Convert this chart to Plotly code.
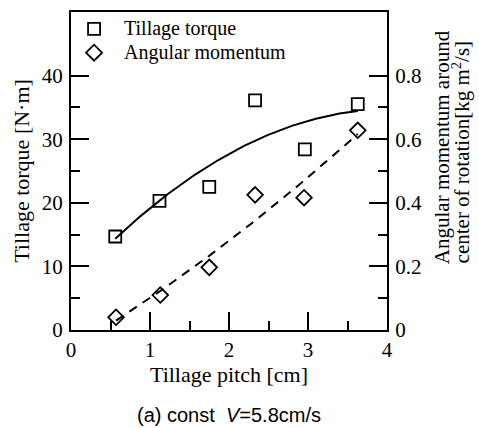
import numpy as np
import plotly.graph_objects as go

# Tillage pitch [cm] and measured values
pitch_torque = [0.56, 1.12, 1.75, 2.33, 2.96, 3.63]
torque = [14.7, 20.3, 22.5, 36.1, 28.4, 35.5]          # N·m

pitch_momentum = [0.57, 1.13, 1.75, 2.33, 2.95, 3.63]
momentum = [0.04, 0.11, 0.197, 0.425, 0.416, 0.628]    # kg m^2/s

left_ticks = [0, 10, 20, 30, 40]
left_minor = [5, 15, 25, 35]
right_ticks = [0, 0.2, 0.4, 0.6, 0.8]
right_tick_text = ["0", "0.2", "0.4", "0.6", "0.8"]
right_minor = [0.1, 0.3, 0.5, 0.7]
x_ticks = [0, 1, 2, 3, 4]
x_minor = [0.5, 1.5, 2.5, 3.5]

SERIF = "Liberation Serif"
SANS = "Liberation Sans"
INK = "black"


def quad_fit(x, y):
    """Second-order least-squares trend over the measured pitch range."""
    coef = np.polyfit(x, y, 2)
    xs = np.linspace(min(x), max(x), 120)
    return xs, np.polyval(coef, xs)


fx_t, fy_t = quad_fit(pitch_torque, torque)
fx_m, fy_m = quad_fit(pitch_momentum, momentum)

fig = go.Figure()

# torque trend and points (left axis)
fig.add_trace(go.Scatter(x=fx_t, y=fy_t, mode="lines",
                         line=dict(color=INK, width=2), hoverinfo="skip",
                         showlegend=False))
fig.add_trace(go.Scatter(x=pitch_torque, y=torque, mode="markers",
                         name="Tillage torque",
                         marker=dict(symbol="square-open", size=12,
                                     color=INK, line=dict(width=1.8)),
                         showlegend=False))

# angular momentum trend and points (right axis)
fig.add_trace(go.Scatter(x=fx_m, y=fy_m, mode="lines", yaxis="y2",
                         line=dict(color=INK, width=2, dash="9px,7px"),
                         hoverinfo="skip", showlegend=False))
fig.add_trace(go.Scatter(x=pitch_momentum, y=momentum, mode="markers",
                         yaxis="y2", name="Angular momentum",
                         marker=dict(symbol="diamond-open", size=12,
                                     color=INK, line=dict(width=1.8)),
                         showlegend=False))

tick_font = dict(family=SERIF, size=21, color=INK)

fig.update_layout(
    width=479, height=428,
    margin=dict(l=71, r=92, t=10, b=98),
    paper_bgcolor="white", plot_bgcolor="white",
    xaxis=dict(
        range=[0, 4], tickvals=x_ticks, ticktext=[str(v) for v in x_ticks],
        ticks="inside", ticklen=18, tickwidth=1.5, tickcolor=INK,
        minor=dict(tickvals=x_minor, ticks="inside", ticklen=9,
                   tickwidth=1.5, tickcolor=INK),
        showline=True, linecolor=INK, linewidth=2, mirror=True,
        showgrid=False, zeroline=False, tickfont=tick_font,
        ticklabelstandoff=0,
        title=dict(text="Tillage pitch [cm]",
                   font=dict(family=SERIF, size=22, color=INK), standoff=4),
    ),
    yaxis=dict(
        range=[0, 50], tickvals=left_ticks,
        ticks="inside", ticklen=18, tickwidth=1.5, tickcolor=INK,
        minor=dict(tickvals=left_minor, ticks="inside", ticklen=9,
                   tickwidth=1.5, tickcolor=INK),
        showline=True, linecolor=INK, linewidth=2,
        showgrid=False, zeroline=False, tickfont=tick_font,
        ticklabelstandoff=2,
        title=dict(text="Tillage torque [N·m]",
                   font=dict(family=SERIF, size=22, color=INK), standoff=6),
    ),
    yaxis2=dict(
        range=[0, 1.0], overlaying="y", side="right",
        tickvals=right_ticks, ticktext=right_tick_text,
        ticks="inside", ticklen=18, tickwidth=1.5, tickcolor=INK,
        minor=dict(tickvals=right_minor, ticks="inside", ticklen=9,
                   tickwidth=1.5, tickcolor=INK),
        showline=True, linecolor=INK, linewidth=2,
        showgrid=False, zeroline=False, tickfont=tick_font,
        ticklabelstandoff=2,
    ),
)

# right-hand axis title, two rotated lines
fig.add_annotation(text="Angular momentum around", xref="paper", yref="paper",
                   x=1.0, y=0.575, xshift=69, textangle=-90, showarrow=False,
                   font=dict(family=SERIF, size=21, color=INK))
fig.add_annotation(text="center of rotation[kg m<sup>2</sup>/s]",
                   xref="paper", yref="paper",
                   x=1.0, y=0.56, xshift=90, textangle=-90, showarrow=False,
                   font=dict(family=SERIF, size=21, color=INK))

# caption under the panel
fig.add_annotation(text="(a) const  <i>V</i>=5.8cm/s", xref="paper",
                   yref="paper", x=0.5, y=0, yshift=-98, showarrow=False,
                   font=dict(family=SANS, size=20, color=INK))

# legend glyphs and labels in the upper-left corner
leg_x = 0.073
leg_rows = [0.947, 0.872]
fig.add_shape(type="rect", xref="paper", yref="paper",
              xsizemode="pixel", ysizemode="pixel",
              xanchor=leg_x, yanchor=leg_rows[0],
              x0=-6, x1=6, y0=-6, y1=6,
              line=dict(color=INK, width=1.8))
fig.add_shape(type="path", xref="paper", yref="paper",
              xsizemode="pixel", ysizemode="pixel",
              xanchor=leg_x, yanchor=leg_rows[1],
              path="M -8 0 L 0 8 L 8 0 L 0 -8 Z",
              line=dict(color=INK, width=1.8))
for label, yy in zip(["Tillage torque", "Angular momentum"], leg_rows):
    fig.add_annotation(text=label, xref="paper", yref="paper",
                       x=0.162, y=yy, xanchor="left", yanchor="middle",
                       showarrow=False,
                       font=dict(family=SERIF, size=20, color=INK))

fig.write_html("out.html")
